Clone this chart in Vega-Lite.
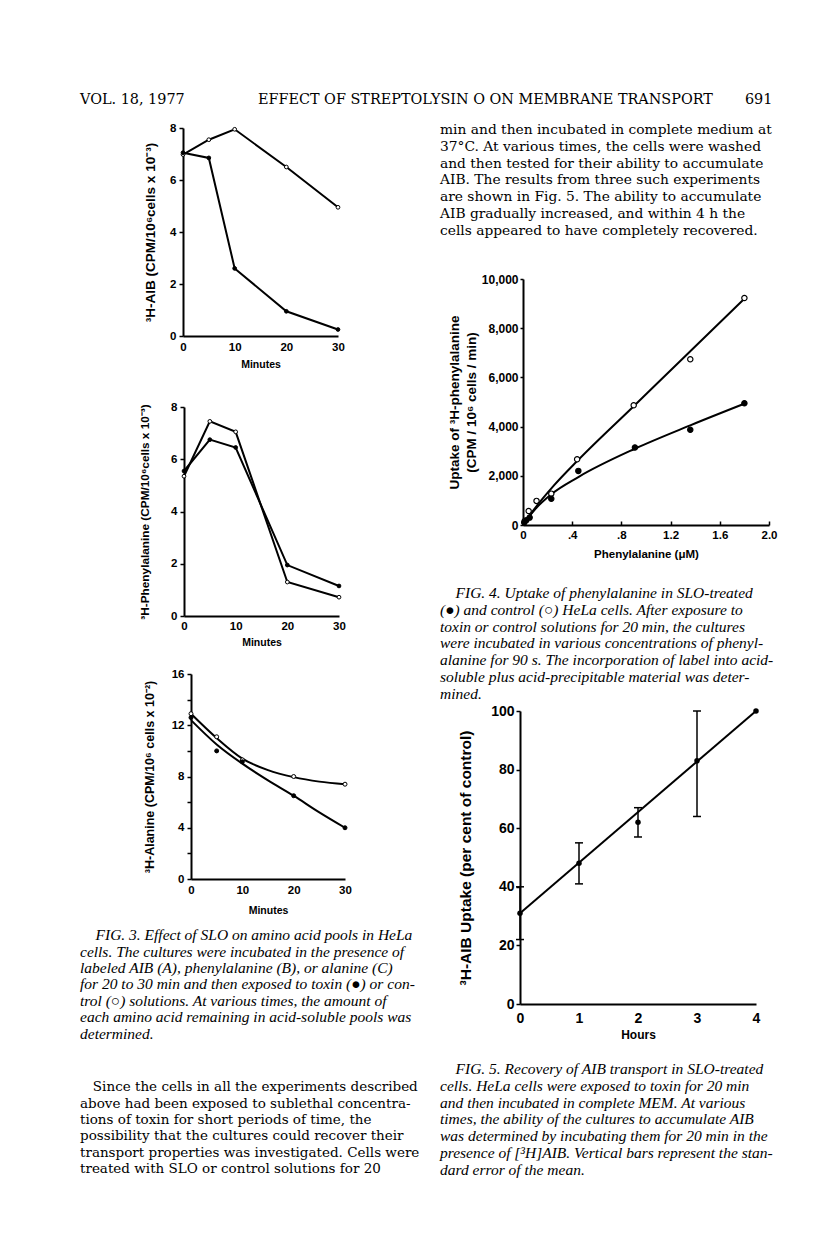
{
  "$schema": "https://vega.github.io/schema/vega-lite/v6.json",
  "padding": {"left": 80, "top": 92, "right": 0, "bottom": 0},
  "background": "white",
  "config": {
    "view": {"stroke": null},
    "font": "Liberation Sans",
    "axis": {"domainColor": "black", "domainWidth": 2, "tickColor": "black", "tickWidth": 1.5, "labelColor": "black", "titleColor": "black", "labelFont": "Liberation Sans", "titleFont": "Liberation Sans", "labelFontWeight": "bold", "titleFontWeight": "bold", "grid": false, "labelFlush": false, "labelOverlap": false}
  },
  "datasets": {
    "none": [],
    "figA": [
      {"m": 0, "v": 6.98, "g": "control"}, {"m": 5, "v": 7.55, "g": "control"}, {"m": 10, "v": 7.95, "g": "control"}, {"m": 20, "v": 6.5, "g": "control"}, {"m": 30, "v": 4.95, "g": "control"},
      {"m": 0, "v": 7.05, "g": "toxin"}, {"m": 5, "v": 6.85, "g": "toxin"}, {"m": 10, "v": 2.6, "g": "toxin"}, {"m": 20, "v": 0.95, "g": "toxin"}, {"m": 30, "v": 0.25, "g": "toxin"}
    ],
    "figB": [
      {"m": 0, "v": 5.35, "g": "control"}, {"m": 5, "v": 7.45, "g": "control"}, {"m": 10, "v": 7.05, "g": "control"}, {"m": 20, "v": 1.3, "g": "control"}, {"m": 30, "v": 0.72, "g": "control"},
      {"m": 0, "v": 5.55, "g": "toxin"}, {"m": 5, "v": 6.75, "g": "toxin"}, {"m": 10, "v": 6.45, "g": "toxin"}, {"m": 20, "v": 1.95, "g": "toxin"}, {"m": 30, "v": 1.15, "g": "toxin"}
    ],
    "figC": [
      {"m": 0, "v": 12.9, "g": "control"}, {"m": 5, "v": 11.1, "g": "control"}, {"m": 10, "v": 9.3, "g": "control"}, {"m": 20, "v": 8.0, "g": "control"}, {"m": 30, "v": 7.4, "g": "control"},
      {"m": 0, "v": 12.6, "g": "toxin"}, {"m": 5, "v": 10.0, "g": "toxin"}, {"m": 10, "v": 9.15, "g": "toxin"}, {"m": 20, "v": 6.5, "g": "toxin"}, {"m": 30, "v": 4.0, "g": "toxin"}
    ],
    "figCfit": [
      {"m": 0, "v": 12.9, "g": "control"}, {"m": 5, "v": 11.0, "g": "control"}, {"m": 10, "v": 9.4, "g": "control"}, {"m": 15, "v": 8.5, "g": "control"}, {"m": 20, "v": 7.95, "g": "control"}, {"m": 25, "v": 7.6, "g": "control"}, {"m": 30, "v": 7.4, "g": "control"},
      {"m": 0, "v": 12.4, "g": "toxin"}, {"m": 5, "v": 10.5, "g": "toxin"}, {"m": 10, "v": 9.0, "g": "toxin"}, {"m": 15, "v": 7.7, "g": "toxin"}, {"m": 20, "v": 6.5, "g": "toxin"}, {"m": 25, "v": 5.2, "g": "toxin"}, {"m": 30, "v": 4.0, "g": "toxin"}
    ],
    "fig4": [
      {"c": 0.014, "u": 160, "g": "control"}, {"c": 0.046, "u": 570, "g": "control"}, {"c": 0.11, "u": 980, "g": "control"}, {"c": 0.23, "u": 1275, "g": "control"}, {"c": 0.44, "u": 2670, "g": "control"}, {"c": 0.9, "u": 4870, "g": "control"}, {"c": 1.36, "u": 6740, "g": "control"}, {"c": 1.8, "u": 9230, "g": "control"},
      {"c": 0.01, "u": 100, "g": "toxin"}, {"c": 0.027, "u": 190, "g": "toxin"}, {"c": 0.054, "u": 300, "g": "toxin"}, {"c": 0.23, "u": 1070, "g": "toxin"}, {"c": 0.45, "u": 2200, "g": "toxin"}, {"c": 0.91, "u": 3150, "g": "toxin"}, {"c": 1.36, "u": 3870, "g": "toxin"}, {"c": 1.8, "u": 4950, "g": "toxin"}
    ],
    "fig4fit": [
      {"c": 0, "u": 0, "g": "control"}, {"c": 0.1, "u": 700, "g": "control"}, {"c": 0.25, "u": 1600, "g": "control"}, {"c": 0.45, "u": 2650, "g": "control"}, {"c": 0.9, "u": 4830, "g": "control"}, {"c": 1.36, "u": 7060, "g": "control"}, {"c": 1.81, "u": 9250, "g": "control"},
      {"c": 0, "u": 0, "g": "toxin"}, {"c": 0.05, "u": 350, "g": "toxin"}, {"c": 0.1, "u": 650, "g": "toxin"}, {"c": 0.23, "u": 1250, "g": "toxin"}, {"c": 0.45, "u": 1950, "g": "toxin"}, {"c": 0.91, "u": 3100, "g": "toxin"}, {"c": 1.36, "u": 4050, "g": "toxin"}, {"c": 1.81, "u": 4950, "g": "toxin"}
    ],
    "fig5": [
      {"h": 0, "v": 31, "lo": 22, "hi": 40}, {"h": 1, "v": 48, "lo": 41, "hi": 55}, {"h": 2, "v": 62, "lo": 57, "hi": 67}, {"h": 3, "v": 83, "lo": 64, "hi": 100}, {"h": 4, "v": 100, "lo": null, "hi": null}
    ],
    "fig5fit": [{"h": 0, "v": 31}, {"h": 4, "v": 100}],
    "texts": [
      {"b": "hdr", "i": 0, "t": "VOL. 18, 1977\u00a0\u00a0\u00a0\u00a0\u00a0\u00a0\u00a0\u00a0\u00a0\u00a0\u00a0\u00a0\u00a0\u00a0\u00a0\u00a0EFFECT OF STREPTOLYSIN O ON MEMBRANE TRANSPORT\u00a0\u00a0\u00a0\u00a0\u00a0\u00a0\u00a0691"},
      {"b": "rbody", "i": 0, "t": "min and then incubated in complete medium at"},
      {"b": "rbody", "i": 1, "t": "37°C. At various times, the cells were washed"},
      {"b": "rbody", "i": 2, "t": "and then tested for their ability to accumulate"},
      {"b": "rbody", "i": 3, "t": "AIB. The results from three such experiments"},
      {"b": "rbody", "i": 4, "t": "are shown in Fig. 5. The ability to accumulate"},
      {"b": "rbody", "i": 5, "t": "AIB gradually increased, and within 4 h the"},
      {"b": "rbody", "i": 6, "t": "cells appeared to have completely recovered."},
      {"b": "cap4", "i": 0, "t": "\u200b\u00a0\u00a0\u00a0\u00a0FIG. 4. Uptake of phenylalanine in SLO-treated"},
      {"b": "cap4", "i": 1, "t": "(●) and control (○) HeLa cells. After exposure to"},
      {"b": "cap4", "i": 2, "t": "toxin or control solutions for 20 min, the cultures"},
      {"b": "cap4", "i": 3, "t": "were incubated in various concentrations of phenyl-"},
      {"b": "cap4", "i": 4, "t": "alanine for 90 s. The incorporation of label into acid-"},
      {"b": "cap4", "i": 5, "t": "soluble plus acid-precipitable material was deter-"},
      {"b": "cap4", "i": 6, "t": "mined."},
      {"b": "cap5", "i": 0, "t": "\u200b\u00a0\u00a0\u00a0\u00a0FIG. 5. Recovery of AIB transport in SLO-treated"},
      {"b": "cap5", "i": 1, "t": "cells. HeLa cells were exposed to toxin for 20 min"},
      {"b": "cap5", "i": 2, "t": "and then incubated in complete MEM. At various"},
      {"b": "cap5", "i": 3, "t": "times, the ability of the cultures to accumulate AIB"},
      {"b": "cap5", "i": 4, "t": "was determined by incubating them for 20 min in the"},
      {"b": "cap5", "i": 5, "t": "presence of [³H]AIB. Vertical bars represent the stan-"},
      {"b": "cap5", "i": 6, "t": "dard error of the mean."},
      {"b": "cap3", "i": 0, "t": "\u200b\u00a0\u00a0\u00a0\u00a0FIG. 3. Effect of SLO on amino acid pools in HeLa"},
      {"b": "cap3", "i": 1, "t": "cells. The cultures were incubated in the presence of"},
      {"b": "cap3", "i": 2, "t": "labeled AIB (A), phenylalanine (B), or alanine (C)"},
      {"b": "cap3", "i": 3, "t": "for 20 to 30 min and then exposed to toxin (●) or con-"},
      {"b": "cap3", "i": 4, "t": "trol (○) solutions. At various times, the amount of"},
      {"b": "cap3", "i": 5, "t": "each amino acid remaining in acid-soluble pools was"},
      {"b": "cap3", "i": 6, "t": "determined."},
      {"b": "lbody", "i": 0, "t": "\u200b\u00a0\u00a0\u00a0Since the cells in all the experiments described"},
      {"b": "lbody", "i": 1, "t": "above had been exposed to sublethal concentra-"},
      {"b": "lbody", "i": 2, "t": "tions of toxin for short periods of time, the"},
      {"b": "lbody", "i": 3, "t": "possibility that the cultures could recover their"},
      {"b": "lbody", "i": 4, "t": "transport properties was investigated. Cells were"},
      {"b": "lbody", "i": 5, "t": "treated with SLO or control solutions for 20"}
    ]
  },
  "spacing": 12,
  "bounds": "flush",
  "vconcat": [
    {
      "width": 700, "height": 16,
      "data": {"name": "texts"},
      "transform": [{"filter": "datum.b === 'hdr'"}],
      "mark": {"type": "text", "align": "left", "baseline": "middle", "font": "DejaVu Serif", "fontSize": 14.4, "color": "black"},
      "encoding": {
        "x": {"datum": 0, "type": "quantitative", "scale": {"domain": [0, 1]}, "axis": null},
        "y": {"field": "i", "type": "ordinal", "scale": {"type": "point", "padding": 0.5}, "axis": null},
        "text": {"field": "t"}
      }
    },
    {
      "spacing": 360,
      "bounds": "flush",
      "hconcat": [
        {
          "spacing": 0,
          "bounds": "flush",
          "vconcat": [
            {"width": 1, "height": 8, "data": {"name": "none"}, "mark": "point", "encoding": {}},
            {
              "spacing": 0, "bounds": "flush",
              "hconcat": [
                {"width": 103, "height": 1, "data": {"name": "none"}, "mark": "point", "encoding": {}},
                {
                  "width": 155, "height": 208,
                  "data": {"name": "figA"},
                  "encoding": {
                    "x": {"field": "m", "type": "quantitative", "scale": {"domain": [0, 30]}, "axis": {"values": [0, 10, 20, 30], "title": "Minutes", "tickSize": 0, "labelPadding": 5, "labelFontSize": 11.5, "titleFontSize": 10.5, "titlePadding": 7}},
                    "y": {"field": "v", "type": "quantitative", "scale": {"domain": [0, 8]}, "axis": {"values": [0, 2, 4, 6, 8], "title": "³H-AIB (CPM/10⁶cells x 10⁻³)", "tickSize": 4, "labelPadding": 3, "labelFontSize": 11.5, "titleFontSize": 13.5, "titlePadding": 12}}
                  },
                  "layer": [
                    {"mark": {"type": "line", "color": "black", "strokeWidth": 2}, "encoding": {"detail": {"field": "g"}}},
                    {"mark": {"type": "point", "filled": true, "stroke": "black", "strokeWidth": 1, "size": 14, "opacity": 1}, "encoding": {"fill": {"field": "g", "type": "nominal", "scale": {"domain": ["toxin", "control"], "range": ["black", "white"]}, "legend": null}}},
                    {"data": {"values": [{}]}, "mark": {"type": "text", "text": "A", "fontSize": 15, "fontWeight": "bold", "font": "Liberation Sans", "color": "black"}, "encoding": {"x": {"datum": 23.5}, "y": {"datum": 7.75}}}
                  ]
                }
              ]
            },
            {"width": 1, "height": 279, "data": {"name": "none"}, "mark": "point", "encoding": {}},
            {
              "spacing": 0, "bounds": "flush",
              "hconcat": [
                {"width": 104, "height": 1, "data": {"name": "none"}, "mark": "point", "encoding": {}},
                {
                  "width": 155, "height": 209,
                  "data": {"name": "figB"},
                  "encoding": {
                    "x": {"field": "m", "type": "quantitative", "scale": {"domain": [0, 30]}, "axis": {"values": [0, 10, 20, 30], "title": "Minutes", "tickSize": 0, "labelPadding": 4, "labelFontSize": 11.5, "titleFontSize": 10.5, "titlePadding": 6}},
                    "y": {"field": "v", "type": "quantitative", "scale": {"domain": [0, 8]}, "axis": {"values": [0, 2, 4, 6, 8], "title": "³H-Phenylalanine (CPM/10⁶cells x 10⁻³)", "tickSize": 4, "labelPadding": 3, "labelFontSize": 11.5, "titleFontSize": 11.8, "titlePadding": 20}}
                  },
                  "layer": [
                    {"mark": {"type": "line", "color": "black", "strokeWidth": 2}, "encoding": {"detail": {"field": "g"}}},
                    {"mark": {"type": "point", "filled": true, "stroke": "black", "strokeWidth": 1, "size": 14, "opacity": 1}, "encoding": {"fill": {"field": "g", "type": "nominal", "scale": {"domain": ["toxin", "control"], "range": ["black", "white"]}, "legend": null}}},
                    {"data": {"values": [{}]}, "mark": {"type": "text", "text": "B", "fontSize": 15, "fontWeight": "bold", "font": "Liberation Sans", "color": "black"}, "encoding": {"x": {"datum": 26}, "y": {"datum": 7.8}}}
                  ]
                }
              ]
            },
            {"width": 1, "height": 267, "data": {"name": "none"}, "mark": "point", "encoding": {}},
            {
              "spacing": 0, "bounds": "flush",
              "hconcat": [
                {"width": 111, "height": 1, "data": {"name": "none"}, "mark": "point", "encoding": {}},
                {
                  "width": 154, "height": 205,
                  "encoding": {
                    "x": {"field": "m", "type": "quantitative", "scale": {"domain": [0, 30]}, "axis": {"values": [0, 10, 20, 30], "title": "Minutes", "tickSize": 0, "labelPadding": 5, "labelFontSize": 11.5, "titleFontSize": 10.5, "titlePadding": 10}},
                    "y": {"field": "v", "type": "quantitative", "scale": {"domain": [0, 16]}, "axis": {"values": [0, 2, 4, 6, 8, 10, 12, 14, 16], "labelExpr": "datum.value % 4 === 0 ? datum.label : ''", "title": "³H-Alanine  (CPM/10⁶ cells  x 10⁻²)", "tickSize": 4, "labelPadding": 3, "labelFontSize": 11.5, "titleFontSize": 12.5, "titlePadding": 15}}
                  },
                  "layer": [
                    {"data": {"name": "figCfit"}, "mark": {"type": "line", "color": "black", "strokeWidth": 2, "interpolate": "monotone"}, "encoding": {"detail": {"field": "g"}}},
                    {"data": {"name": "figC"}, "mark": {"type": "point", "filled": true, "stroke": "black", "strokeWidth": 1, "size": 16, "opacity": 1}, "encoding": {"fill": {"field": "g", "type": "nominal", "scale": {"domain": ["toxin", "control"], "range": ["black", "white"]}, "legend": null}}},
                    {"data": {"values": [{}]}, "mark": {"type": "text", "text": "C", "fontSize": 15, "fontWeight": "bold", "font": "Liberation Sans", "color": "black"}, "encoding": {"x": {"datum": 24.5}, "y": {"datum": 15.5}}}
                  ]
                }
              ]
            },
            {"width": 1, "height": 252.8, "data": {"name": "none"}, "mark": "point", "encoding": {}},
            {
              "width": 340, "height": 114.8,
              "data": {"name": "texts"},
              "transform": [{"filter": "datum.b === 'cap3'"}],
              "mark": {"type": "text", "align": "left", "baseline": "middle", "font": "Liberation Serif", "fontStyle": "italic", "fontSize": 15.5, "color": "black"},
              "encoding": {
                "x": {"datum": 0, "type": "quantitative", "scale": {"domain": [0, 1]}, "axis": null},
                "y": {"field": "i", "type": "ordinal", "scale": {"type": "point", "padding": 0.5}, "axis": null},
                "text": {"field": "t"}
              }
            },
            {"width": 1, "height": 36.2, "data": {"name": "none"}, "mark": "point", "encoding": {}},
            {
              "width": 340, "height": 98.4,
              "data": {"name": "texts"},
              "transform": [{"filter": "datum.b === 'lbody'"}],
              "mark": {"type": "text", "align": "left", "baseline": "middle", "font": "DejaVu Serif", "fontSize": 13.5, "color": "black"},
              "encoding": {
                "x": {"datum": 0, "type": "quantitative", "scale": {"domain": [0, 1]}, "axis": null},
                "y": {"field": "i", "type": "ordinal", "scale": {"type": "point", "padding": 0.5}, "axis": null},
                "text": {"field": "t"}
              }
            }
          ]
        },
        {
          "spacing": 0,
          "bounds": "flush",
          "vconcat": [
            {"width": 1, "height": 1.65, "data": {"name": "none"}, "mark": "point", "encoding": {}},
            {
              "width": 340, "height": 116.9,
              "data": {"name": "texts"},
              "transform": [{"filter": "datum.b === 'rbody'"}],
              "mark": {"type": "text", "align": "left", "baseline": "middle", "font": "DejaVu Serif", "fontSize": 13.8, "color": "black"},
              "encoding": {
                "x": {"datum": 0, "type": "quantitative", "scale": {"domain": [0, 1]}, "axis": null},
                "y": {"field": "i", "type": "ordinal", "scale": {"type": "point", "padding": 0.5}, "axis": null},
                "text": {"field": "t"}
              }
            },
            {"width": 1, "height": 39.45, "data": {"name": "none"}, "mark": "point", "encoding": {}},
            {
              "spacing": 0, "bounds": "flush",
              "hconcat": [
                {"width": 83, "height": 1, "data": {"name": "none"}, "mark": "point", "encoding": {}},
                {
                  "width": 246, "height": 246,
                  "encoding": {
                    "x": {"field": "c", "type": "quantitative", "scale": {"domain": [0, 2]}, "axis": {"values": [0, 0.4, 0.8, 1.2, 1.6, 2.0], "labelExpr": "datum.value === 0 ? '0' : (datum.value < 1 ? replace(format(datum.value, '.1f'), '0.', '.') : format(datum.value, '.1f'))", "title": "Phenylalanine (μM)", "tickSize": -4, "labelPadding": 8, "labelFontSize": 11.5, "titleFontSize": 11.5, "titlePadding": 8}},
                    "y": {"field": "u", "type": "quantitative", "scale": {"domain": [0, 10000]}, "axis": {"values": [0, 2000, 4000, 6000, 8000, 10000], "format": ",d", "title": ["Uptake of ³H-phenylalanine", "(CPM / 10⁶ cells / min)"], "titleLineHeight": 17, "tickSize": 3, "labelPadding": 2, "labelFontSize": 12, "titleFontSize": 13.5, "titlePadding": 3}}
                  },
                  "layer": [
                    {"data": {"name": "fig4fit"}, "mark": {"type": "line", "color": "black", "strokeWidth": 2, "interpolate": "monotone"}, "encoding": {"detail": {"field": "g"}}},
                    {"data": {"name": "fig4"}, "mark": {"type": "point", "filled": true, "stroke": "black", "strokeWidth": 1.2, "size": 28, "opacity": 1}, "encoding": {"fill": {"field": "g", "type": "nominal", "scale": {"domain": ["toxin", "control"], "range": ["black", "white"]}, "legend": null}}}
                  ]
                }
              ]
            },
            {"width": 1, "height": 305.65, "data": {"name": "none"}, "mark": "point", "encoding": {}},
            {
              "width": 340, "height": 116.9,
              "data": {"name": "texts"},
              "transform": [{"filter": "datum.b === 'cap4'"}],
              "mark": {"type": "text", "align": "left", "baseline": "middle", "font": "Liberation Serif", "fontStyle": "italic", "fontSize": 15.5, "color": "black"},
              "encoding": {
                "x": {"datum": 0, "type": "quantitative", "scale": {"domain": [0, 1]}, "axis": null},
                "y": {"field": "i", "type": "ordinal", "scale": {"type": "point", "padding": 0.5}, "axis": null},
                "text": {"field": "t"}
              }
            },
            {"width": 1, "height": 8.45, "data": {"name": "none"}, "mark": "point", "encoding": {}},
            {
              "spacing": 0, "bounds": "flush",
              "hconcat": [
                {"width": 80, "height": 1, "data": {"name": "none"}, "mark": "point", "encoding": {}},
                {
                  "width": 236, "height": 293,
                  "encoding": {
                    "x": {"field": "h", "type": "quantitative", "scale": {"domain": [0, 4]}, "axis": {"values": [0, 1, 2, 3, 4], "title": "Hours", "tickSize": 0, "labelPadding": 7, "labelFontSize": 14, "titleFontSize": 12, "titlePadding": 4}},
                    "y": {"field": "v", "type": "quantitative", "scale": {"domain": [0, 100]}, "axis": {"values": [0, 20, 40, 60, 80, 100], "title": "³H-AIB Uptake (per cent of control)", "tickSize": 4, "labelPadding": 2, "labelFontSize": 14, "titleFontSize": 15.5, "titlePadding": 17}}
                  },
                  "layer": [
                    {"data": {"name": "fig5fit"}, "mark": {"type": "line", "color": "black", "strokeWidth": 2}},
                    {"data": {"name": "fig5"}, "mark": {"type": "rule", "color": "black", "strokeWidth": 1.5}, "encoding": {"y": {"field": "lo", "type": "quantitative"}, "y2": {"field": "hi"}}},
                    {"data": {"name": "fig5"}, "mark": {"type": "tick", "orient": "horizontal", "color": "black", "size": 8, "thickness": 1.5, "opacity": 1}, "encoding": {"y": {"field": "lo", "type": "quantitative"}}},
                    {"data": {"name": "fig5"}, "mark": {"type": "tick", "orient": "horizontal", "color": "black", "size": 8, "thickness": 1.5, "opacity": 1}, "encoding": {"y": {"field": "hi", "type": "quantitative"}}},
                    {"data": {"name": "fig5"}, "mark": {"type": "point", "filled": true, "color": "black", "size": 30, "opacity": 1}}
                  ]
                }
              ]
            },
            {"width": 1, "height": 349.65, "data": {"name": "none"}, "mark": "point", "encoding": {}},
            {
              "width": 340, "height": 116.9,
              "data": {"name": "texts"},
              "transform": [{"filter": "datum.b === 'cap5'"}],
              "mark": {"type": "text", "align": "left", "baseline": "middle", "font": "Liberation Serif", "fontStyle": "italic", "fontSize": 15.5, "color": "black"},
              "encoding": {
                "x": {"datum": 0, "type": "quantitative", "scale": {"domain": [0, 1]}, "axis": null},
                "y": {"field": "i", "type": "ordinal", "scale": {"type": "point", "padding": 0.5}, "axis": null},
                "text": {"field": "t"}
              }
            }
          ]
        }
      ]
    }
  ]
}
